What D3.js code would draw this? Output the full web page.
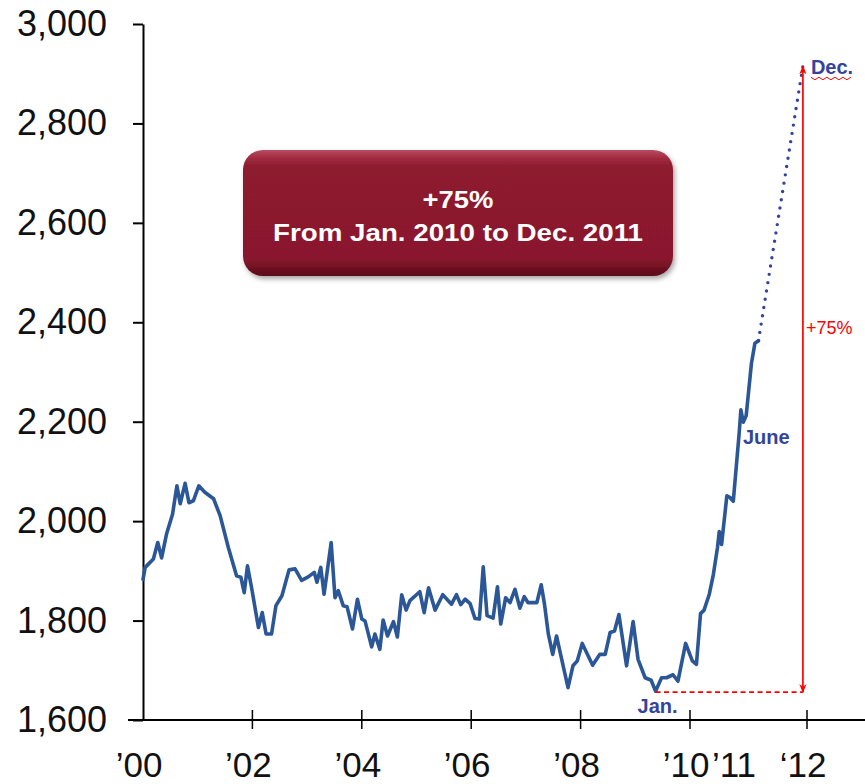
<!DOCTYPE html>
<html>
<head>
<meta charset="utf-8">
<script src="https://cdn.jsdelivr.net/npm/d3@7"></script>
<style>
  body { margin: 0; background: #fff; }
  text { font-family: "Liberation Sans", Arial, sans-serif; }
</style>
</head>
<body>
<div id="chart"></div>
<script>
// data (decimal years, index value)
var years = [2000.00, 2000.04, 2000.19, 2000.27, 2000.34, 2000.43, 2000.54, 2000.62, 2000.68, 2000.77, 2000.84, 2000.92,
  2001.02, 2001.13, 2001.29, 2001.41, 2001.56, 2001.71, 2001.79, 2001.85, 2001.91, 2001.99,
  2002.11, 2002.18, 2002.25, 2002.35, 2002.43, 2002.54, 2002.67, 2002.78, 2002.90,
  2003.02, 2003.13, 2003.18, 2003.25, 2003.31, 2003.44, 2003.51, 2003.57, 2003.66, 2003.73, 2003.83, 2003.92,
  2004.00, 2004.06, 2004.18, 2004.24, 2004.33, 2004.39, 2004.47, 2004.58, 2004.65, 2004.73, 2004.81, 2004.88,
  2005.06, 2005.14, 2005.22, 2005.34, 2005.48, 2005.64, 2005.73, 2005.81, 2005.89, 2005.98,
  2006.07, 2006.15, 2006.22, 2006.29, 2006.40, 2006.48, 2006.54, 2006.63, 2006.71, 2006.80, 2006.89, 2006.97,
  2007.04, 2007.20, 2007.28, 2007.34, 2007.41, 2007.49, 2007.56, 2007.62, 2007.77, 2007.86, 2007.94,
  2008.03, 2008.22, 2008.35, 2008.45, 2008.54, 2008.62, 2008.70, 2008.84, 2008.96,
  2009.05, 2009.18, 2009.29, 2009.37, 2009.48, 2009.57, 2009.69, 2009.78, 2009.92,
  2010.04, 2010.11, 2010.18, 2010.24, 2010.33, 2010.40, 2010.47, 2010.50, 2010.54, 2010.63, 2010.68, 2010.74,
  2010.84, 2010.87, 2010.91, 2010.96,
  2011.05, 2011.11, 2011.17];

var values = [1883, 1907, 1924, 1957, 1926, 1974, 2014, 2071, 2035, 2076, 2037, 2041,
  2071, 2058, 2045, 2011, 1947, 1890, 1887, 1856, 1910, 1863,
  1786, 1816, 1773, 1773, 1830, 1850, 1902, 1904, 1881,
  1888, 1897, 1877, 1907, 1853, 1957, 1846, 1860, 1830, 1828, 1783, 1843,
  1803, 1799, 1747, 1773, 1742, 1801, 1769, 1798, 1767, 1852, 1821, 1840,
  1858, 1816, 1866, 1821, 1852, 1833, 1852, 1832, 1843, 1834,
  1804, 1803, 1908, 1810, 1805, 1868, 1793, 1846, 1836, 1863, 1825, 1848,
  1836, 1836, 1872, 1833, 1773, 1732, 1769, 1739, 1665, 1709, 1719,
  1754, 1710, 1732, 1732, 1776, 1779, 1812, 1709, 1798,
  1722, 1685, 1680, 1658, 1685, 1685, 1691, 1678, 1754,
  1719, 1712, 1814, 1821, 1853, 1893, 1947, 1979, 1953, 2051, 2048, 2040,
  2176, 2224, 2199, 2212,
  2317, 2358, 2363];

// dotted projection to December 2011
var projYears = [2011.17, 2011.93];
var projValues = [2363, 2915];

// +75% arrow: from the low to the projected high
var arrowYear = 2011.93;
var lowValue = 1656;
var highValue = 2915;
var lowYear = 2009.37;
var juneYear = 2010.87;
var juneValue = 2224;

var yTicks = [1600, 1800, 2000, 2200, 2400, 2600, 2800, 3000];
var xTicks = [2002, 2004, 2006, 2008, 2010, 2012];
var xLabels = ["\u201900", "\u201902", "\u201904", "\u201906", "\u201908", "\u201910", "\u201911", "\u201812"];
var xLabelYears = [2000, 2002, 2004, 2006, 2008, 2010, 2010.82, 2012];
var boxLines = ["+75%", "From Jan. 2010 to Dec. 2011"];

var svgWidth = 865;
var svgHeight = 784;

var svg = d3.select("#chart")
  .append("svg")
  .attr("width", svgWidth)
  .attr("height", svgHeight);

// axis is slightly uneven in the original, so piecewise
var x = d3.scaleLinear()
  .domain([2000, 2010, 2012])
  .range([143, 690, 807]);

var y = d3.scaleLinear()
  .domain([1600, 3000])
  .range([720, 24]);

var blue = "#2b5797";
var labelBlue = "#34449c";
var red = "#ff0000";

var defs = svg.append("defs");

var grad = defs.append("linearGradient")
  .attr("id", "boxGrad")
  .attr("x1", 0).attr("y1", 0).attr("x2", 0).attr("y2", 1);
grad.append("stop").attr("offset", "0%").attr("stop-color", "#b84c60");
grad.append("stop").attr("offset", "7%").attr("stop-color", "#a0293d");
grad.append("stop").attr("offset", "14%").attr("stop-color", "#8c1a2e");
grad.append("stop").attr("offset", "86%").attr("stop-color", "#89192d");
grad.append("stop").attr("offset", "100%").attr("stop-color", "#5a0b19");

var shadow = defs.append("filter")
  .attr("id", "boxShadow")
  .attr("x", "-10%").attr("y", "-10%").attr("width", "120%").attr("height", "130%");
shadow.append("feDropShadow")
  .attr("dx", 2).attr("dy", 3)
  .attr("stdDeviation", 2.5)
  .attr("flood-color", "#000")
  .attr("flood-opacity", 0.35);

defs.append("marker")
  .attr("id", "arrowHead")
  .attr("viewBox", "0 0 10 10")
  .attr("refX", 9).attr("refY", 5)
  .attr("markerWidth", 9).attr("markerHeight", 9)
  .attr("markerUnits", "userSpaceOnUse")
  .attr("orient", "auto-start-reverse")
  .append("path")
  .attr("d", "M0,1 L10,5 L0,9 L3,5 z")
  .attr("fill", red);

// Y axis
var leftAxis = d3.axisLeft(y)
  .tickValues(yTicks)
  .tickSize(10)
  .tickSizeOuter(0)
  .tickPadding(26)
  .tickFormat(d3.format(","));

var yAxis = svg.append("g")
  .attr("transform", `translate(${x(2000)}, 0)`)
  .call(leftAxis);
yAxis.select(".domain").attr("stroke", "#000").attr("stroke-width", 2);
yAxis.selectAll(".tick line").attr("stroke", "#000").attr("stroke-width", 2);
yAxis.selectAll(".tick text")
  .attr("fill", "#111")
  .style("font-size", "36px");

// X axis
var xAxis = svg.append("g")
  .attr("transform", `translate(0, ${y(1600)})`);

xAxis.append("line")
  .attr("x1", x(2000) - 15)
  .attr("x2", svgWidth)
  .attr("stroke", "#000")
  .attr("stroke-width", 2);

xAxis.selectAll(".xtick")
  .data(xTicks)
  .enter()
  .append("line")
  .attr("class", "xtick")
  .attr("x1", d => x(d)).attr("x2", d => x(d))
  .attr("y1", -10).attr("y2", 9)
  .attr("stroke", "#000")
  .attr("stroke-width", 1.5);

xAxis.selectAll(".xlabel")
  .data(xLabels)
  .enter()
  .append("text")
  .attr("class", "xlabel")
  .attr("x", (d, i) => x(xLabelYears[i]) - 4)
  .attr("y", 57)
  .attr("text-anchor", "middle")
  .attr("fill", "#111")
  .style("font-size", "35px")
  .text(d => d);

// main series
var points = years.map((d, i) => [d, values[i]]);

var line = d3.line()
  .x(d => x(d[0]))
  .y(d => y(d[1]));

svg.append("path")
  .datum(points)
  .attr("d", line)
  .attr("fill", "none")
  .attr("stroke", blue)
  .attr("stroke-width", 3.6)
  .attr("stroke-linejoin", "round")
  .attr("stroke-linecap", "round");

// projection (dotted)
svg.append("path")
  .datum(projYears.map((d, i) => [d, projValues[i]]))
  .attr("d", line)
  .attr("fill", "none")
  .attr("stroke", labelBlue)
  .attr("stroke-width", 3.4)
  .attr("stroke-linecap", "round")
  .attr("stroke-dasharray", "0 8.4");

// red dashed base line and double arrow
svg.append("line")
  .attr("x1", x(lowYear)).attr("x2", x(arrowYear))
  .attr("y1", y(lowValue)).attr("y2", y(lowValue))
  .attr("stroke", red)
  .attr("stroke-width", 1.6)
  .attr("stroke-dasharray", "5 3.5");

svg.append("line")
  .attr("x1", x(arrowYear)).attr("x2", x(arrowYear))
  .attr("y1", y(lowValue)).attr("y2", y(highValue))
  .attr("stroke", red)
  .attr("stroke-width", 1.7)
  .attr("marker-start", "url(#arrowHead)")
  .attr("marker-end", "url(#arrowHead)");

svg.append("text")
  .attr("x", x(arrowYear) + 3)
  .attr("y", 334)
  .attr("fill", red)
  .style("font-size", "18px")
  .text("+75%");

// point labels
svg.append("text")
  .attr("x", x(lowYear) + 2)
  .attr("y", y(lowValue) + 21)
  .attr("text-anchor", "middle")
  .attr("fill", labelBlue)
  .style("font-size", "20px")
  .style("font-weight", "bold")
  .text("Jan.");

svg.append("text")
  .attr("x", x(juneYear) + 2)
  .attr("y", y(juneValue) + 34)
  .attr("fill", labelBlue)
  .style("font-size", "20px")
  .style("font-weight", "bold")
  .text("June");

var decX = x(arrowYear) + 8;
var decY = y(highValue) + 8;
svg.append("text")
  .attr("x", decX)
  .attr("y", decY)
  .attr("fill", labelBlue)
  .style("font-size", "20px")
  .style("font-weight", "bold")
  .text("Dec.");

// spell-check squiggle under "Dec."
var sq = d3.path();
sq.moveTo(decX, decY + 3);
for (var k = 1; k <= 10; k++) {
  sq.lineTo(decX + k * 4, decY + (k % 2 ? 5.5 : 3));
}
svg.append("path")
  .attr("d", sq.toString())
  .attr("fill", "none")
  .attr("stroke", red)
  .attr("stroke-width", 1);

// callout box
var box = svg.append("g").attr("transform", "translate(243, 150)");

box.append("rect")
  .attr("width", 430)
  .attr("height", 126)
  .attr("rx", 20).attr("ry", 20)
  .attr("fill", "url(#boxGrad)")
  .attr("filter", "url(#boxShadow)");

box.selectAll(".boxtext")
  .data(boxLines)
  .enter()
  .append("text")
  .attr("class", "boxtext")
  .attr("x", 215)
  .attr("y", (d, i) => 58 + i * 33)
  .attr("text-anchor", "middle")
  .attr("fill", "#fff")
  .style("font-size", "24px")
  .style("font-weight", "bold")
  .attr("textLength", (d, i) => i === 0 ? 71 : 370)
  .attr("lengthAdjust", "spacingAndGlyphs")
  .text(d => d);
</script>
</body>
</html>
